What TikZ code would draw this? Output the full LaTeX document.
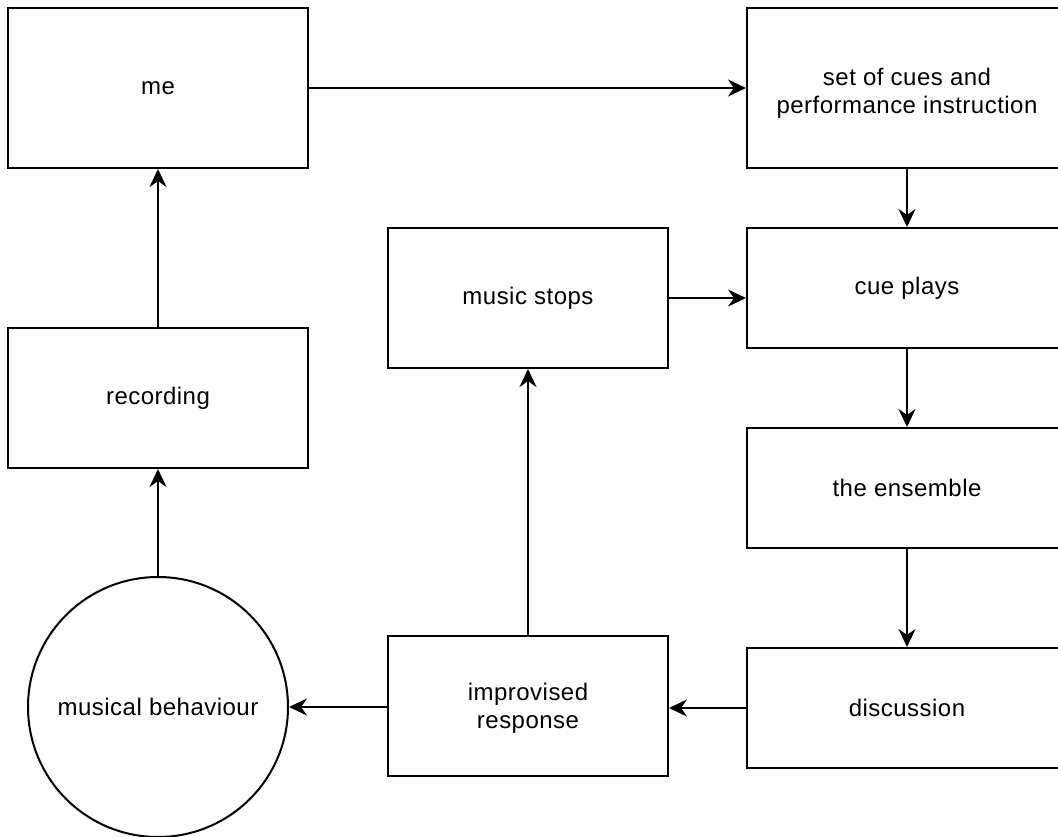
\documentclass[tikz,border=0pt]{standalone}
\usepackage{fontspec}
\setmainfont{Liberation Sans}[LetterSpace=2]
\usetikzlibrary{arrows.meta}
\begin{document}
\begin{tikzpicture}[x=1pt,y=-1pt,
  every node/.style={font=\fontsize{24}{28}\selectfont, align=center},
  box/.style={draw, line width=2pt, inner sep=0pt, minimum width=#1},
  box/.default=300pt,
  flow/.style={draw, line width=2pt, -{Stealth[length=18pt,width=17pt,inset=6pt]}}
]
\useasboundingbox (0,0) rectangle (1058,836);
% process boxes
\node[box=300pt, minimum height=160pt] (me) at (158,88) {me};
\node[box=320pt, minimum height=160pt] (cues) at (907,88) {\begin{tabular}{@{}c@{}}\rule{0pt}{31pt}set of cues and\\performance instruction\end{tabular}};
\node[box=320pt, minimum height=120pt] (plays) at (907,288) {cue plays};
\node[box=280pt, minimum height=140pt] (stops) at (528,298) {music stops};
\node[box=300pt, minimum height=140pt] (rec) at (158,398) {recording};
\node[box=320pt, minimum height=120pt] (ens) at (907,488) {the ensemble};
\node[box=320pt, minimum height=120pt] (disc) at (907,708) {discussion};
\node[box=280pt, minimum height=140pt] (impr) at (528,706) {\begin{tabular}{@{}c@{}}\rule{0pt}{26pt}improvised\\response\end{tabular}};
\node[draw, line width=2pt, circle, minimum size=260pt, inner sep=0pt] (beh) at (158,707) {musical behaviour};
% connectors
\path[flow] (me.east) -- (cues.west |- me.east);
\path[flow] (cues.south) -- (plays.north);
\path[flow] (stops.east) -- (plays.west |- stops.east);
\path[flow] (plays.south) -- (ens.north);
\path[flow] (ens.south) -- (disc.north);
\path[flow] (disc.west) -- (impr.east |- disc.west);
\path[flow] (impr.west |- beh.east) -- (beh.east);
\path[flow] (impr.north) -- (stops.south);
\path[flow] (beh.north) -- (rec.south);
\path[flow] (rec.north) -- (me.south);
\end{tikzpicture}
\end{document}
